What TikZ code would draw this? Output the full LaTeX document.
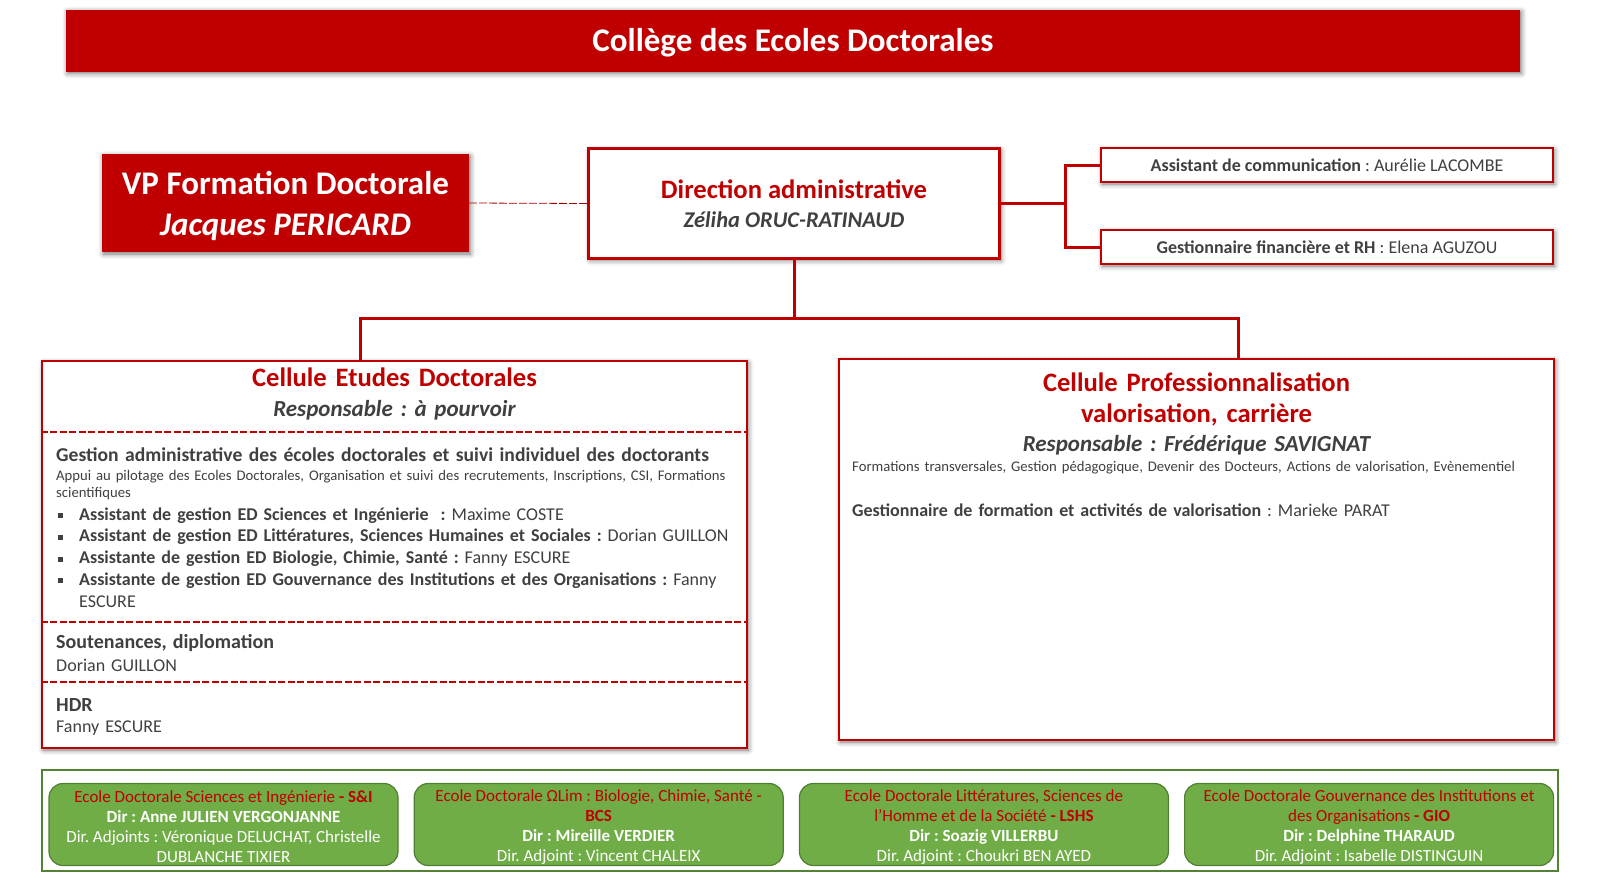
\documentclass[tikz,border=0pt]{standalone}
\usepackage{fontspec}
\setmainfont{Carlito}
\usepackage{xcolor}
\usetikzlibrary{positioning,shadows.blur}

\definecolor{edred}{HTML}{C00000}
\definecolor{darkred}{HTML}{A00000}
\definecolor{txtgray}{HTML}{404040}
\definecolor{edgreen}{HTML}{70AD47}
\definecolor{edgreenline}{HTML}{507E32}
\definecolor{zonegreen}{HTML}{548235}

\frenchspacing
\newcommand{\fsz}[2]{\fontsize{#1}{#2}\selectfont}
\newcommand{\bul}{\makebox[21pt][l]{\rule[2pt]{5pt}{5pt}}}

\begin{document}
\begin{tikzpicture}[
    x=1pt, y=-1pt,
    boxshadow/.style={
        blur shadow={shadow xshift=1.5pt, shadow yshift=-2pt,
            shadow blur radius=5pt, shadow opacity=55}
    },
    redblock/.style={
        fill=edred,
        text=white,
        inner sep=0pt,
        align=center,
        boxshadow
    },
    whiteblock/.style={
        draw=edred,
        line width=2.5pt,
        fill=white,
        inner sep=0pt,
        align=center,
        boxshadow
    },
    titlebar/.style={
        redblock,
        minimum width=1454pt,
        minimum height=62pt,
        font=\bfseries\fsz{33}{40}
    },
    vpblock/.style={
        redblock,
        minimum width=367pt,
        minimum height=98pt,
        font=\bfseries\fsz{33}{41}
    },
    dirblock/.style={
        whiteblock,
        minimum width=411pt,
        minimum height=110pt,
        font=\bfseries\fsz{22.5}{29}
    },
    staffbox/.style={
        whiteblock,
        minimum width=452pt,
        minimum height=34pt,
        text=txtgray,
        font=\fsz{18}{22}
    },
    cellbox/.style={
        whiteblock
    },
    celltitle/.style={
        text=edred,
        font=\bfseries\fsz{26.6}{31},
        anchor=base,
        inner sep=0pt,
        text width=700pt,
        align=center
    },
    cellsub/.style={
        text=txtgray,
        font=\bfseries\itshape\fsz{23}{28},
        anchor=base,
        inner sep=0pt,
        text width=700pt,
        align=center
    },
    bodytext/.style={
        text=txtgray,
        anchor=base west,
        inner sep=0pt,
        text width=690pt,
        align=left,
        font=\fsz{18}{21.75}
    },
    smalltext/.style={
        bodytext,
        font=\fsz{14.7}{17.7}
    },
    headtext/.style={
        bodytext,
        font=\bfseries\fsz{19.6}{23}
    },
    sepline/.style={
        draw=edred,
        line width=2.5pt,
        dash pattern=on 7pt off 2.5pt
    },
    link/.style={
        draw=edred,
        line width=3pt
    },
    vplink/.style={
        draw=darkred,
        line width=0.8pt,
        dash pattern=on 8pt off 2pt
    },
    edzone/.style={
        draw=zonegreen,
        line width=2pt,
        minimum width=1516pt,
        minimum height=101pt
    },
    edblock/.style={
        draw=edgreenline,
        line width=1.2pt,
        fill=edgreen,
        rounded corners=14pt,
        text=white,
        inner sep=0pt,
        align=center,
        minimum width=369pt,
        minimum height=82pt,
        font=\fsz{17}{20}
    }
]

\useasboundingbox (0,0) rectangle (1603,881);

\node[titlebar] (college) at (793,40.5) {\rule{0pt}{27pt}Collège des Ecoles Doctorales};

\node[vpblock] (vp) at (285.5,203) {\rule{0pt}{29pt}VP Formation Doctorale\\\textit{Jacques PERICARD}};

\node[dirblock] (dir) at (794,203.5) {{\color{edred}\fsz{26.6}{29}Direction administrative}\\{\color{txtgray}\itshape Zéliha ORUC-RATINAUD}};

\node[staffbox] (com) at (1327,165) {\textbf{Assistant de communication} : Aurélie LACOMBE};

\node[staffbox, below=45.5pt of com] (rh) {\textbf{Gestionnaire financière et RH} : Elena AGUZOU};

\draw[vplink] (vp.east) -- (dir.west);

\coordinate (fork) at ([xshift=65pt]dir.east);
\draw[link] (dir.east) -- (fork);
\draw[link] (com.west) -| (fork) |- (rh.west);

\node[cellbox, minimum width=705pt, minimum height=387pt] (ced) at (394.5,554.5) {};

\node[cellbox, minimum width=715pt, minimum height=381pt] (cpro) at (1196.5,549.5) {};

\coordinate (hub) at ([yshift=-59pt]dir.south);
\draw[link] (dir.south) -- (hub);
\draw[link] ([xshift=-34.5pt]ced.north) |- (hub) -| ([xshift=41.5pt]cpro.north);

\node[celltitle] (cedtitle) at (394.5,386) {Cellule Etudes Doctorales};

\node[cellsub] (cedresp) at (394.5,416) {Responsable : à pourvoir};

\foreach \dy in {72,262,322}
    \draw[sepline] ([yshift=-\dy pt]ced.north west) -- ([yshift=-\dy pt]ced.north east);

\node[headtext] (cedgest) at (56,461) {Gestion administrative des écoles doctorales et suivi individuel des doctorants};

\node[smalltext] (cedappui) at (56,480) {Appui au pilotage des Ecoles Doctorales, Organisation et suivi des recrutements, Inscriptions, CSI, Formations\\scientifiques};

\node[bodytext] (cedlist) at (58,520) {\bul\textbf{Assistant de gestion ED Sciences et Ingénierie~ :} Maxime COSTE\\
\bul\textbf{Assistant de gestion ED Littératures, Sciences Humaines et Sociales :} Dorian GUILLON\\
\bul\textbf{Assistante de gestion ED Biologie, Chimie, Santé :} Fanny ESCURE\\
\bul\textbf{Assistante de gestion ED Gouvernance des Institutions et des Organisations :} Fanny\\
\hspace*{21pt}ESCURE};

\node[bodytext, font=\fsz{18}{23}] (cedsout) at (56,648) {\textbf{\fsz{20}{23}Soutenances, diplomation}\\Dorian GUILLON};

\node[bodytext, font=\fsz{18}{21}] (cedhdr) at (56,711) {\textbf{\fsz{20}{21}HDR}\\Fanny ESCURE};

\node[celltitle] (cprotitle) at (1196.5,391) {Cellule Professionnalisation\\valorisation, carrière};

\node[cellsub] (cproresp) at (1196.5,451) {Responsable : Frédérique SAVIGNAT};

\node[smalltext] (cprotasks) at (852,471) {Formations transversales, Gestion pédagogique, Devenir des Docteurs, Actions de valorisation, Evènementiel};

\node[bodytext] (cprogest) at (852,516) {\textbf{Gestionnaire de formation et activités de valorisation} : Marieke PARAT};

\node[edzone] (zone) at (800,820.5) {};

\node[edblock, minimum width=349pt] (edsi) at (223.5,824.5) {\rule{0pt}{16pt}\textcolor{edred}{Ecole Doctorale Sciences et Ingénierie \textbf{- S\&I}}\\\textbf{Dir : Anne JULIEN VERGONJANNE}\\Dir. Adjoints : Véronique DELUCHAT, Christelle\\DUBLANCHE TIXIER};

\node[edblock, right=15pt of edsi] (edbcs) {\rule{0pt}{16pt}\textcolor{edred}{Ecole Doctorale ΩLim : Biologie, Chimie, Santé -}\\\textcolor{edred}{\textbf{BCS}}\\\textbf{Dir : Mireille VERDIER}\\Dir. Adjoint : Vincent CHALEIX};

\node[edblock, right=15pt of edbcs] (edlshs) {\rule{0pt}{16pt}\textcolor{edred}{Ecole Doctorale Littératures, Sciences de}\\\textcolor{edred}{l’Homme et de la Société \textbf{- LSHS}}\\\textbf{Dir : Soazig VILLERBU}\\Dir. Adjoint : Choukri BEN AYED};

\node[edblock, right=15pt of edlshs] (edgio) {\rule{0pt}{16pt}\textcolor{edred}{Ecole Doctorale Gouvernance des Institutions et}\\\textcolor{edred}{des Organisations \textbf{- GIO}}\\\textbf{Dir : Delphine THARAUD}\\Dir. Adjoint : Isabelle DISTINGUIN};

\end{tikzpicture}
\end{document}
